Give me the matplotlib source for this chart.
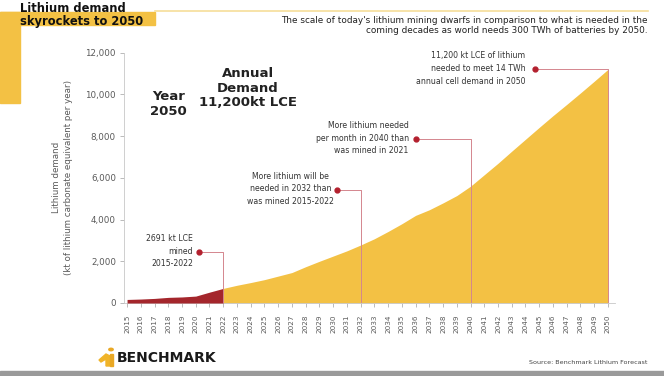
import matplotlib.pyplot as plt
import matplotlib.patches as mpatches
import numpy as np

plt.rcParams['font.family'] = ['DejaVu Sans']

# data (kt LCE per year)
years = np.arange(2015, 2051)
demand = [170, 190, 220, 270, 290, 331, 520, 700,
          850, 980, 1120, 1290, 1460, 1740, 2000, 2250, 2500, 2780,
          3080, 3430, 3800, 4200, 4470, 4800, 5150, 5600, 6150, 6700,
          7280, 7850, 8420, 8980, 9520, 10070, 10630, 11200]
mined_end = 2022
yticks = [0, 2000, 4000, 6000, 8000, 10000, 12000]

# callouts: (text, dot year, dot value, target year, text alignment, text x)
callouts = [
    ("2691 kt LCE\nmined\n2015-2022", 2020.25, 2440, 2022, "right", 2019.8),
    ("More lithium will be\nneeded in 2032 than\nwas mined 2015-2022", 2030.3, 5420, 2032, "center", 2026.9),
    ("More lithium needed\nper month in 2040 than\nwas mined in 2021", 2036.0, 7860, 2040, "right", 2035.5),
    ("11,200 kt LCE of lithium\nneeded to meet 14 TWh\nannual cell demand in 2050", 2044.7, 11200, 2050, "right", 2044.0),
]

YELLOW = "#F3C144"
RED = "#A4262C"
DOT = "#B3202E"
LINE = "#D4868E"
GREY = "#5a5a5a"

W, H = 664, 376
fig = plt.figure(figsize=(W / 100, H / 100), dpi=100)


def fx(x):
    return x / W


def fy(y):
    return 1 - y / H


ax = fig.add_axes([fx(124.3), fy(303), 490.5 / W, 250.3 / H])
d = np.array(demand)
ax.fill_between(years, 0, d, where=years >= mined_end, color=YELLOW, lw=0, zorder=2)
ax.fill_between(years, 0, d, where=years <= mined_end, color=RED, lw=0, zorder=3)
ax.set_xlim(2014.8, 2050.5)
ax.set_ylim(0, 12000)

for s in ["top", "right"]:
    ax.spines[s].set_visible(False)
ax.spines["left"].set_color("#c8c8c8")
ax.spines["bottom"].set_color("#c8c8c8")
ax.spines["left"].set_linewidth(0.6)
ax.spines["bottom"].set_linewidth(0.6)
ax.set_yticks(yticks)
ax.set_yticklabels([f"{v:,}" for v in yticks], fontsize=6.3, color=GREY)
ax.set_xticks(years)
ax.set_xticklabels([str(y) for y in years], rotation=90, fontsize=5.2, color=GREY)
ax.tick_params(axis="both", length=3, width=0.6, color="#b0b0b0", pad=5)
ax.tick_params(axis="y", pad=3)
ax.set_ylabel("Lithium demand\n(kt of lithium carbonate equivalent per year)",
              fontsize=6.3, color=GREY, labelpad=9, linespacing=1.4)

for text, dx, dy, tx, ha, lx in callouts:
    ax.plot([dx, tx, tx], [dy, dy, 0], color=LINE, lw=0.7, zorder=4)
    ax.plot(dx, dy, "o", color=DOT, ms=3.5, zorder=5)
    ax.text(lx, dy + 50, text, ha=ha, va="center", fontsize=5.6, color="#333333",
            linespacing=1.55, zorder=5)

# big labels
ax.text(2018.0, 9550, "Year\n2050", ha="center", va="center", fontsize=9.5,
        fontweight="bold", color="#222222", linespacing=1.15)
ax.text(2023.8, 10300, "Annual\nDemand\n11,200kt LCE", ha="center", va="center",
        fontsize=9.5, fontweight="bold", color="#222222", linespacing=1.15)

# header decoration
fig.patches.append(mpatches.Rectangle((0, fy(25)), fx(155), 13.3 / H,
                                      transform=fig.transFigure, color=YELLOW, zorder=0))
fig.patches.append(mpatches.Rectangle((0, fy(103)), fx(20), 91 / H,
                                      transform=fig.transFigure, color=YELLOW, zorder=0))
fig.lines.append(plt.Line2D([fx(155), fx(648)], [fy(11), fy(11)], transform=fig.transFigure,
                            color="#F6DE9A", lw=1.2))
fig.text(fx(20), fy(15), "Lithium demand\nskyrockets to 2050", fontsize=8.3,
         fontweight="bold", color="#111111", va="center", ha="left", linespacing=1.0)
fig.text(fx(648), fy(25.5),
         "The scale of today's lithium mining dwarfs in comparison to what is needed in the\n"
         "coming decades as world needs 300 TWh of batteries by 2050.",
         fontsize=6.4, color="#222222", ha="right", va="center", linespacing=1.2)

# footer
fig.patches.append(mpatches.Circle((fx(111), fy(349.5)), 2.2 / W, transform=fig.transFigure,
                                   color="#E9A825"))
fig.patches.append(mpatches.Polygon([[fx(99), fy(360)], [fx(106), fy(354)], [fx(110), fy(356)],
                                     [fx(110), fy(366)], [fx(106), fy(366)], [fx(106), fy(359)],
                                     [fx(101), fy(362)]], transform=fig.transFigure,
                                    color="#F0B429"))
fig.patches.append(mpatches.Rectangle((fx(110), fy(366)), 3 / W, 12 / H,
                                      transform=fig.transFigure, color="#E9A825"))
fig.text(fx(117), fy(358), "BENCHMARK", fontsize=10, fontweight="bold", color="#1a1a1a",
         ha="left", va="center")
fig.text(fx(647), fy(363), "Source: Benchmark Lithium Forecast", fontsize=4.6,
         color="#444444", ha="right", va="center")
fig.patches.append(mpatches.Rectangle((0, 0), 1, 5 / H, transform=fig.transFigure,
                                      color="#9a9a9a"))

fig.savefig("out.png", dpi=100)
